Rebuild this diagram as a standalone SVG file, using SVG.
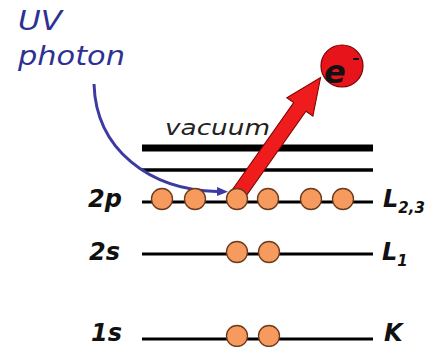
<svg xmlns="http://www.w3.org/2000/svg" width="433" height="347" viewBox="0 0 433 347">
<style>
.lvl{stroke:#000;stroke-width:3;fill:none}
.e{fill:#f79a5e;stroke:#6b3a1f;stroke-width:1.3}
.lab{font-family:"DejaVu Sans",Verdana,sans-serif;font-weight:bold;font-style:italic;font-size:24px;fill:#111}
.sub{font-size:15px}
.blue{font-family:"DejaVu Sans","Liberation Sans",sans-serif;font-style:italic;font-size:27px;fill:#2e3192}
</style>
<defs>
<marker id="bh" markerUnits="userSpaceOnUse" markerWidth="12" markerHeight="10" refX="0" refY="4.5" orient="auto">
<path d="M0,0 L11,4.5 L0,9 z" fill="#3b3ba0"/>
</marker>
</defs>
<rect width="433" height="347" fill="#fff"/>
<g id="photon-label">
<text class="blue" x="18" y="30" textLength="44" lengthAdjust="spacingAndGlyphs">UV</text>
<text class="blue" x="18" y="65" textLength="107" lengthAdjust="spacingAndGlyphs">photon</text>
</g>
<g id="vacuum">
<line x1="142" y1="148" x2="373" y2="148" stroke="#000" stroke-width="7"/>
<line x1="142" y1="170" x2="373" y2="170" stroke="#000" stroke-width="3.5"/>
<text x="165" y="135" font-family="DejaVu Sans,sans-serif" font-style="italic" font-size="21" fill="#222" textLength="105" lengthAdjust="spacingAndGlyphs">vacuum</text>
</g>
<g id="level-2p">
<line class="lvl" x1="142" y1="202" x2="373" y2="202"/>
<text class="lab" x="88" y="207">2p</text>
<text class="lab" x="383" y="207">L<tspan class="sub" dy="6">2,3</tspan></text>
</g>
<g id="level-2s">
<line class="lvl" x1="142" y1="254" x2="373" y2="254"/>
<text class="lab" x="89" y="260">2s</text>
<text class="lab" x="382" y="260">L<tspan class="sub" dy="6">1</tspan></text>
</g>
<g id="level-1s">
<line class="lvl" x1="142" y1="339" x2="373" y2="339"/>
<text class="lab" x="91" y="341">1s</text>
<text class="lab" x="384" y="341">K</text>
</g>
<g id="connectors">
<path d="M94,84 C96,150 150,190 217,191.5" fill="none" stroke="#3b3ba0" stroke-width="3" marker-end="url(#bh)"/>
<g transform="translate(237,196) rotate(-54.8)">
<polygon points="-4,-7.5 109,-7.5 109,-16 145,0 109,16 109,7.5 -4,7.5" fill="#ee1c1c" stroke="#7a0000" stroke-width="1"/>
</g>
</g>
<g id="electrons">
<circle class="e" cx="162" cy="199" r="10.5"/>
<circle class="e" cx="195" cy="199" r="10.5"/>
<circle class="e" cx="237" cy="199" r="10.5"/>
<circle class="e" cx="268" cy="199" r="10.5"/>
<circle class="e" cx="311" cy="199" r="10.5"/>
<circle class="e" cx="343" cy="199" r="10.5"/>
<circle class="e" cx="237" cy="252" r="10.5"/>
<circle class="e" cx="269" cy="252" r="10.5"/>
<circle class="e" cx="237" cy="336" r="10.5"/>
<circle class="e" cx="269" cy="336" r="10.5"/>
</g>
<g id="photoelectron">
<circle cx="342" cy="66" r="21" fill="#e8141c" stroke="#7a0000" stroke-width="1.2"/>
<text x="324" y="83" font-family="DejaVu Sans,sans-serif" font-style="italic" font-weight="bold" font-size="32" fill="#111">e</text>
<line x1="353" y1="59" x2="359" y2="59" stroke="#111" stroke-width="2"/>
</g>
</svg>
